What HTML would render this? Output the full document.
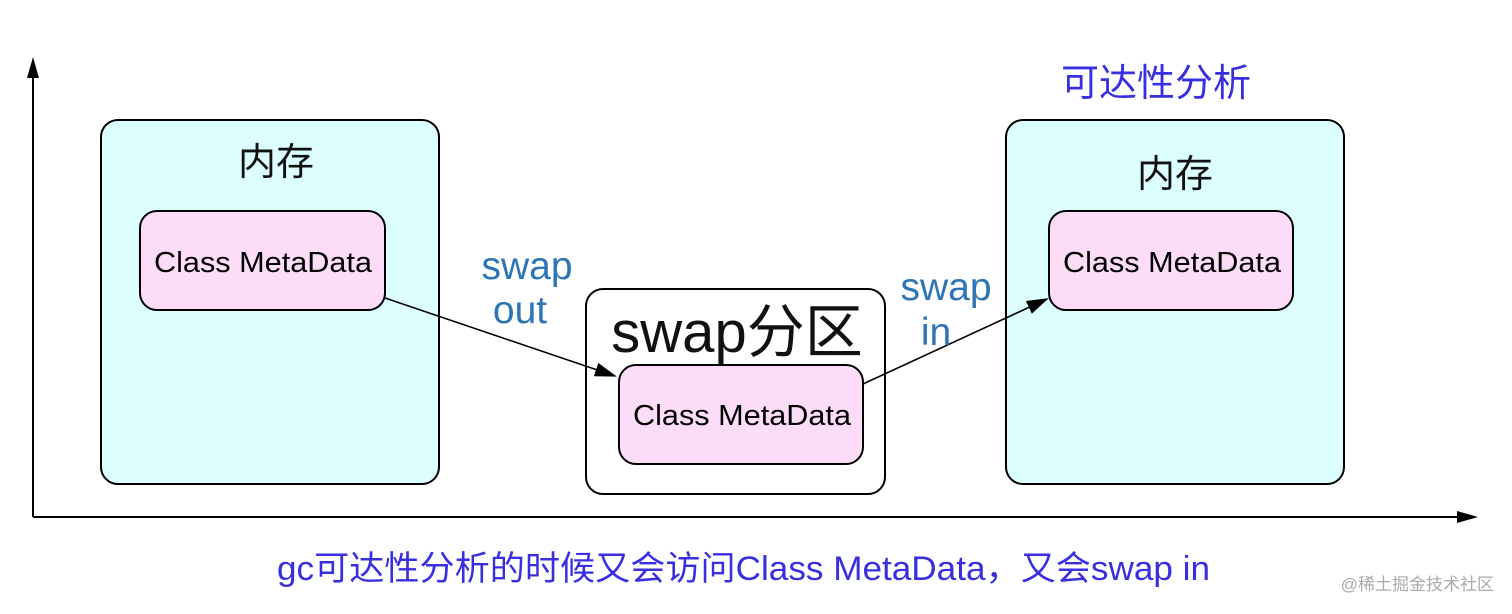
<!DOCTYPE html>
<html><head><meta charset="utf-8"><style>
html,body{margin:0;padding:0;background:#fff;}
svg{display:block;}
text{font-family:"Liberation Sans","Noto Sans CJK SC",sans-serif;}
</style></head><body>
<svg width="1512" height="614" viewBox="0 0 1512 614" xmlns="http://www.w3.org/2000/svg">
<defs>
<marker id="b" markerWidth="22" markerHeight="14" refX="20" refY="7" orient="auto" markerUnits="userSpaceOnUse"><path d="M0,0 L22,7 L0,14 Z" fill="#000"/></marker>
</defs>
<line x1="33" y1="517" x2="33" y2="76" stroke="#000" stroke-width="2"/>
<path d="M27,78 L33,57 L39,78 Z" fill="#000"/>
<line x1="33" y1="517" x2="1458" y2="517" stroke="#000" stroke-width="2"/>
<path d="M1457,511 L1478,517 L1457,523 Z" fill="#000"/>
<rect x="101" y="120" width="338" height="364" rx="17" fill="#dcfefe" stroke="#000" stroke-width="2"/>
<text x="276" y="175" font-size="38" text-anchor="middle" fill="#111">内存</text>
<rect x="140" y="211" width="245" height="99" rx="17" fill="#fddcf8" stroke="#000" stroke-width="2"/>
<text x="154" y="272" font-size="29" textLength="218" lengthAdjust="spacingAndGlyphs" fill="#000">Class MetaData</text>
<rect x="586" y="289" width="299" height="205" rx="17" fill="#fff" stroke="#000" stroke-width="2"/>
<text x="737" y="352" font-size="58" text-anchor="middle" fill="#111">swap分区</text>
<rect x="619" y="365" width="244" height="99" rx="17" fill="#fddcf8" stroke="#000" stroke-width="2"/>
<text x="633" y="425" font-size="29" textLength="218" lengthAdjust="spacingAndGlyphs" fill="#000">Class MetaData</text>
<rect x="1006" y="120" width="338" height="364" rx="17" fill="#dcfefe" stroke="#000" stroke-width="2"/>
<text x="1175" y="187" font-size="38" text-anchor="middle" fill="#111">内存</text>
<rect x="1049" y="211" width="244" height="99" rx="17" fill="#fddcf8" stroke="#000" stroke-width="2"/>
<text x="1063" y="272" font-size="29" textLength="218" lengthAdjust="spacingAndGlyphs" fill="#000">Class MetaData</text>
<text x="1156" y="96" font-size="38" text-anchor="middle" fill="#3a2fe0">可达性分析</text>
<line x1="385" y1="298" x2="615" y2="376" stroke="#000" stroke-width="1.6" marker-end="url(#b)"/>
<line x1="863" y1="384" x2="1047" y2="299" stroke="#000" stroke-width="1.6" marker-end="url(#b)"/>
<text x="527" y="279" font-size="39" text-anchor="middle" fill="#2e75b6">swap</text>
<text x="520" y="323" font-size="39" text-anchor="middle" fill="#2e75b6">out</text>
<text x="946" y="300" font-size="39" text-anchor="middle" fill="#2e75b6">swap</text>
<text x="936" y="345" font-size="39" text-anchor="middle" fill="#2e75b6">in</text>
<text x="277" y="580" font-size="34" textLength="933" lengthAdjust="spacingAndGlyphs" fill="#3a2fe0">gc可达性分析的时候又会访问Class MetaData，又会swap in</text>
<text x="1494" y="590" font-size="17" text-anchor="end" fill="#aaa">@稀土掘金技术社区</text>
</svg>
</body></html>
